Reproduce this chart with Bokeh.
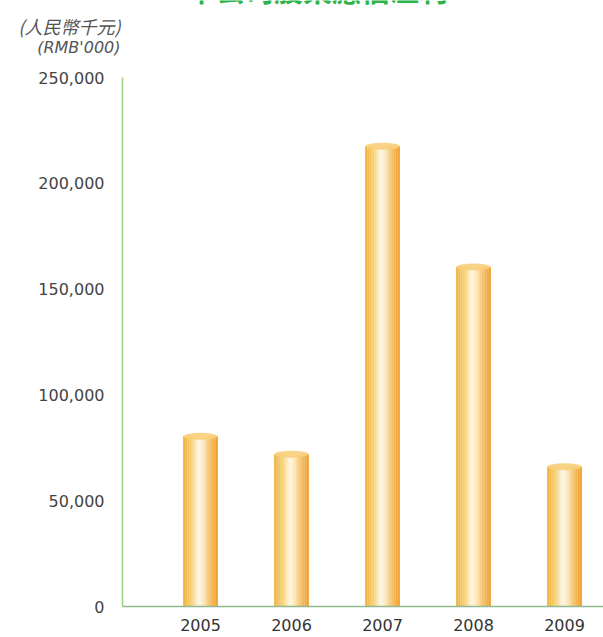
from bokeh.plotting import figure
from bokeh.models import ColumnDataSource, Range1d, FixedTicker, NumeralTickFormatter, Label
from bokeh.transform import dodge
from bokeh.embed import file_html
from bokeh.resources import INLINE
import numpy as np

years = [2005, 2006, 2007, 2008, 2009]
year_labels = ["2005", "2006", "2007", "2008", "2009"]
values = [80400, 72000, 217500, 160500, 66000]
y_ticks = [0, 50000, 100000, 150000, 200000, 250000]
title_text = "本公司股東應佔溢利"
unit_cn = "(人民幣千元)"
unit_en = "(RMB'000)"

W, H = 603, 637
ppu = 529 / 250000          # px per value unit
ppy = 91.0                  # px per year
X0_PX, Y0_PX = 200, 606     # pixel position of (2005, 0)

def xd(px):
    return 2005 + (px - X0_PX) / ppy

def yd(py):
    return (Y0_PX - py) / ppu

p = figure(width=W, height=H, output_backend="svg", toolbar_location=None,
           x_range=Range1d(xd(0), xd(W)), y_range=Range1d(yd(H), yd(0)),
           min_border_left=0, min_border_right=0, min_border_top=0, min_border_bottom=0)
p.outline_line_color = None
p.grid.visible = False
p.background_fill_color = "white"
p.border_fill_color = "white"

src = ColumnDataSource(dict(year=years, value=values))

bw = 0.38
N = 16
stops_pos = [0.0, 0.2, 0.45, 0.6, 0.85, 1.0]
stops_col = [(0xef, 0xb0, 0x3a), (0xf6, 0xcb, 0x6a), (0xff, 0xf7, 0xe4),
             (0xfd, 0xe7, 0xb8), (0xf3, 0xb4, 0x50), (0xee, 0x9c, 0x2c)]
for i in range(N):
    t = (i + 0.5) / N
    rgb = [int(np.interp(t, stops_pos, [c[k] for c in stops_col])) for k in range(3)]
    col = "#%02x%02x%02x" % tuple(rgb)
    off = -bw / 2 + (i + 0.5) * bw / N
    p.vbar(x=dodge("year", off, range=p.x_range), bottom=0, top="value", width=bw / N * 1.08,
           source=src, fill_color=col, line_color=None)

p.ellipse(x="year", y="value", width=bw, height=7, height_units="screen",
          source=src, fill_color="#f8cf7a", line_color=None, fill_alpha=0.9)

# axes placed at fixed data locations inside the full-canvas frame
p.yaxis.fixed_location = xd(122)
p.yaxis.bounds = (0, 250000)
p.yaxis.ticker = FixedTicker(ticks=y_ticks)
p.yaxis.formatter = NumeralTickFormatter(format="0,0")
p.yaxis.axis_line_color = "#9dd07c"
p.yaxis.axis_line_width = 1.5
p.yaxis.major_tick_line_color = None
p.yaxis.minor_tick_line_color = None
p.yaxis.major_label_standoff = 12
p.yaxis.major_label_text_font = "DejaVu Sans"
p.yaxis.major_label_text_font_size = "16px"
p.yaxis.major_label_text_color = "#444444"

p.xaxis.fixed_location = 0
p.xaxis.bounds = (xd(122), xd(W))
p.xaxis.ticker = FixedTicker(ticks=years)
p.xaxis.major_label_overrides = {y: l for y, l in zip(years, year_labels)}
p.xaxis.axis_line_color = "#93b88e"
p.xaxis.axis_line_width = 1.5
p.xaxis.major_tick_line_color = None
p.xaxis.minor_tick_line_color = None
p.xaxis.major_label_standoff = 6
p.xaxis.major_label_text_font = "DejaVu Sans"
p.xaxis.major_label_text_font_size = "16px"
p.xaxis.major_label_text_color = "#333333"

# unit labels and (cropped) title
p.add_layout(Label(x=xd(120), y=yd(25), text=unit_cn, text_align="right",
                   text_baseline="middle", text_font="Noto Sans CJK TC", text_font_size="18px",
                   text_font_style="italic", text_color="#555555"))
p.add_layout(Label(x=xd(120), y=yd(47), text=unit_en, text_align="right",
                   text_baseline="middle", text_font="DejaVu Sans", text_font_size="16px",
                   text_font_style="italic", text_color="#555555"))
p.add_layout(Label(x=xd(317), y=yd(9), text=title_text,
                   text_align="center", text_baseline="bottom", text_font="Noto Sans CJK TC",
                   text_font_size="29px", text_font_style="bold", text_color="#2cb34a"))

open("out.html", "w").write(file_html(p, INLINE))
